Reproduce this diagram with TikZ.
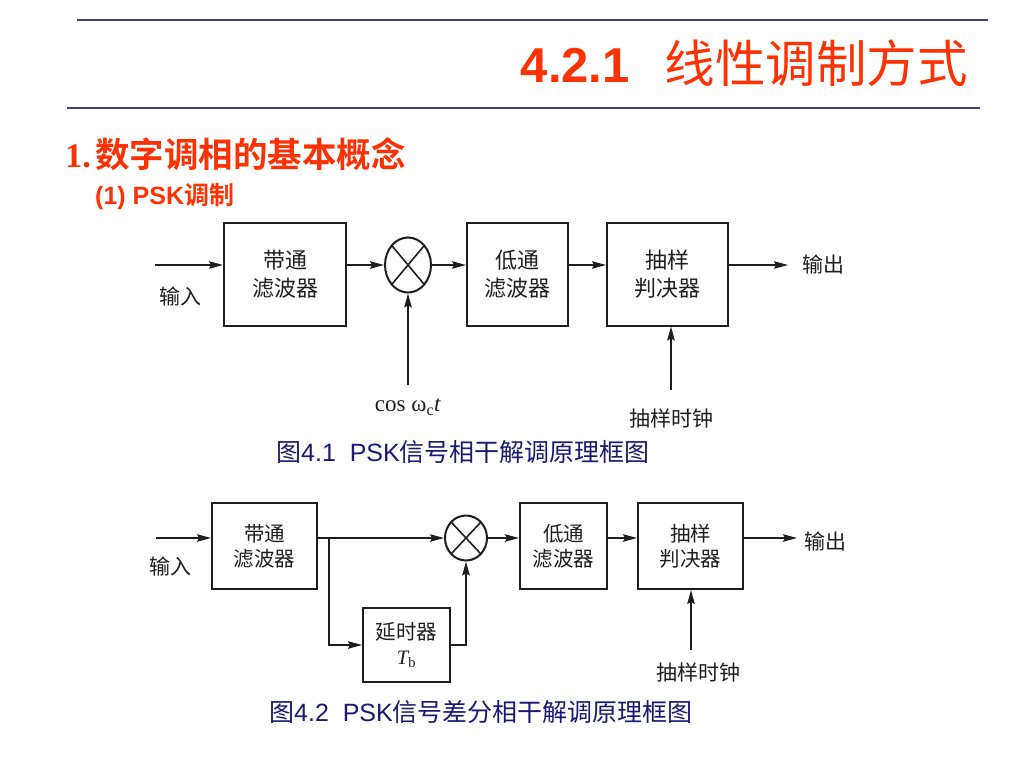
\documentclass[tikz,border=0pt]{standalone}
\usepackage{fontspec}
\setmainfont{Liberation Serif}
\newfontfamily\cjk[BoldFont={Noto Sans CJK SC Bold}]{Noto Sans CJK SC}
\newfontfamily\arial{Liberation Sans}
\usetikzlibrary{shapes.geometric,arrows.meta}
\definecolor{titlered}{RGB}{252,50,5}
\definecolor{rulecol}{RGB}{60,60,140}
\definecolor{capcol}{RGB}{25,25,115}
\definecolor{ink}{RGB}{30,30,30}
\begin{document}
\begin{tikzpicture}[x=1pt,y=-1pt,
  blk/.style={draw=ink,line width=2pt,rectangle,inner sep=0pt,align=center,text=ink,
    font={\fontsize{22}{28}\selectfont\cjk}},
  blkb/.style={blk,font={\fontsize{20.5}{25}\selectfont\cjk}},
  mult/.style={draw=ink,line width=2pt,ellipse,inner sep=0pt,
    path picture={\draw[ink,line width=1.6pt] (path picture bounding box.north west) -- (path picture bounding box.south east)
      (path picture bounding box.north east) -- (path picture bounding box.south west);}},
  arr/.style={draw=ink,line width=1.3pt,-{Stealth[length=14pt,width=7.5pt,inset=2pt]}},
  lbl/.style={text=ink,inner sep=0pt,font={\fontsize{21}{24}\selectfont\cjk}},
  captext/.style={text=capcol,inner sep=0pt,font={\fontsize{25}{30}\selectfont}},
  hrule/.style={draw=rulecol,line width=2pt}]
\useasboundingbox (0,0) rectangle (1024,768);
% header
\coordinate (r1a) at (77,20); \coordinate (r1b) at (988,20);
\coordinate (r2a) at (67,108); \coordinate (r2b) at (980,108);
\draw[hrule] (r1a) -- (r1b);
\draw[hrule] (r2a) -- (r2b);
\node[anchor=base east,inner sep=0pt,text=titlered] (title) at (968,82)
  {{\fontsize{49}{55}\selectfont\arial\bfseries 4.2.1}\hspace{35pt}{\fontsize{50.5}{55}\selectfont\cjk 线性调制方式}};
\node[anchor=base west,inner sep=0pt,text=titlered] (h1) at (65,167)
  {\fontsize{34.5}{38}\selectfont{\bfseries 1.}\hspace{4pt}{\cjk\bfseries 数字调相的基本概念}};
\node[anchor=base west,inner sep=0pt,text=titlered] (h2) at (95,204)
  {{\fontsize{25}{28}\selectfont\arial\bfseries (1) PSK}{\fontsize{25}{28}\selectfont\cjk\bfseries 调制}};
% diagram 1
\node[blk,minimum width=122pt,minimum height=103pt] (b1) at (285,274) {带通\\滤波器};
\node[mult,minimum width=46pt,minimum height=55pt] (m1) at (408,265) {};
\node[blk,minimum width=101pt,minimum height=103pt] (b2) at (517.5,274) {低通\\滤波器};
\node[blk,minimum width=121pt,minimum height=103pt] (b3) at (667.5,274) {抽样\\判决器};
\coordinate (in1) at (155,265);
\coordinate (out1) at (788,265);
\coordinate (c1) at (408,385);
\coordinate (k1) at (671,390);
\draw[arr] (in1) -- (b1.west |- in1);
\draw[arr] (b1.east |- m1) -- (m1.west);
\draw[arr] (m1.east) -- (b2.west |- m1);
\draw[arr] (b2.east |- m1) -- (b3.west |- m1);
\draw[arr] (b3.east |- out1) -- (out1);
\draw[arr] (c1) -- (m1.south);
\draw[arr] (k1) -- (k1 |- b3.south);
\node[lbl] (t1in) at (180,296) {输入};
\node[lbl] (t1out) at (823,264) {输出};
\node[lbl,font={\fontsize{23}{26}\selectfont}] (t1cos) at (408,407) {cos ω\textsubscript{c}\textit{t}};
\node[lbl] (t1clk) at (671,418) {抽样时钟};
\node[captext] (cap1) at (463,452) {{\cjk 图}{\arial 4.1\ \ PSK}{\cjk 信号相干解调原理框图}};
% diagram 2
\node[blkb,minimum width=105pt,minimum height=86pt] (b21) at (264.5,546) {带通\\滤波器};
\node[mult,minimum width=42pt,minimum height=45pt] (m2) at (466,538) {};
\node[blkb,minimum width=87pt,minimum height=86pt] (b22) at (563.5,546) {低通\\滤波器};
\node[blkb,minimum width=105pt,minimum height=86pt] (b23) at (690.5,546) {抽样\\判决器};
\node[blkb,minimum width=87pt,minimum height=74pt] (dl) at (406.5,645) {延时器\\{\rmfamily\itshape T}\textsubscript{\rmfamily b}};
\coordinate (in2) at (156,538);
\coordinate (out2) at (797,538);
\coordinate (br) at (329,538);
\coordinate (k2) at (691,650);
\draw[arr] (in2) -- (b21.west |- in2);
\draw[arr] (b21.east |- m2) -- (m2.west);
\draw[arr] (br) |- (dl.west);
\draw[arr] (dl.east) -| (m2.south);
\draw[arr] (m2.east) -- (b22.west |- m2);
\draw[arr] (b22.east |- m2) -- (b23.west |- m2);
\draw[arr] (b23.east |- out2) -- (out2);
\draw[arr] (k2) -- (k2 |- b23.south);
\node[lbl] (t2in) at (170,566) {输入};
\node[lbl] (t2out) at (825,541) {输出};
\node[lbl] (t2clk) at (698,672) {抽样时钟};
\node[captext] (cap2) at (481,712) {{\cjk 图}{\arial 4.2\ \ PSK}{\cjk 信号差分相干解调原理框图}};
\end{tikzpicture}
\end{document}
